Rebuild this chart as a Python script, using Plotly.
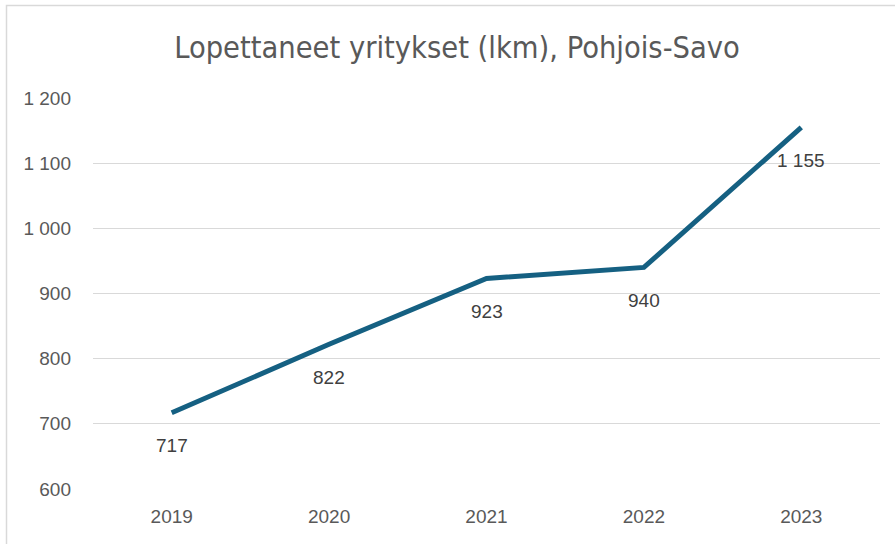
import plotly.graph_objects as go

years = ["2019", "2020", "2021", "2022", "2023"]
values = [717, 822, 923, 940, 1155]
value_labels = ["717", "822", "923", "940", "1 155"]
y_ticks = [600, 700, 800, 900, 1000, 1100, 1200]
y_tick_labels = ["600", "700", "800", "900", "1 000", "1 100", "1 200"]
title = "Lopettaneet yritykset (lkm), Pohjois-Savo"

FONT = "Liberation Sans, Arial, sans-serif"

fig = go.Figure()
fig.add_trace(go.Scatter(
    x=years, y=values, mode="lines",
    line=dict(color="#156082", width=5),
    cliponaxis=False, hoverinfo="skip",
))

for i, (v, lab) in enumerate(zip(values, value_labels)):
    fig.add_annotation(x=i, y=v, xref="x", yref="y", text=lab, showarrow=False,
                       xanchor="center", yanchor="middle", yshift=-33,
                       font=dict(family=FONT, size=19, color="#404040"))

W, H = 895, 544
L, R, T, B = 93, 15, 98, 55
pw, ph = W - L - R, H - T - B

fig.update_layout(
    width=W, height=H,
    margin=dict(l=L, r=R, t=T, b=B),
    paper_bgcolor="white", plot_bgcolor="white",
    showlegend=False,
    title=dict(text=title, x=457 / W, xanchor="center", y=1 - 47 / H, yanchor="middle",
               font=dict(family="DejaVu Sans Condensed, Liberation Sans Narrow, Liberation Sans, sans-serif",
                         size=30.5, color="#595959")),
    xaxis=dict(type="category", range=[-0.5, len(years) - 0.5], showgrid=False, zeroline=False,
               showline=False, ticks="", ticklabelstandoff=14,
               tickfont=dict(family=FONT, size=19, color="#595959")),
    yaxis=dict(range=[600, 1200], tickvals=y_ticks, ticktext=y_tick_labels,
               showgrid=True, gridcolor="#d9d9d9", gridwidth=1, zeroline=False, showline=False,
               ticks="", ticklabelstandoff=21,
               tickfont=dict(family=FONT, size=19, color="#595959")),
)

# outer chart border (partly cropped in the reference)
fig.add_shape(type="rect", xref="paper", yref="paper",
              x0=(6.5 - L) / pw, x1=(W + 20 - L) / pw,
              y0=-(H + 20 - T - ph) / ph, y1=1 + (T - 5.5) / ph,
              line=dict(color="#d9d9d9", width=1.5), layer="below")

fig.write_html("out.html", config={"displayModeBar": False},
               post_script="document.body.style.margin='0';document.body.style.overflow='hidden';")
